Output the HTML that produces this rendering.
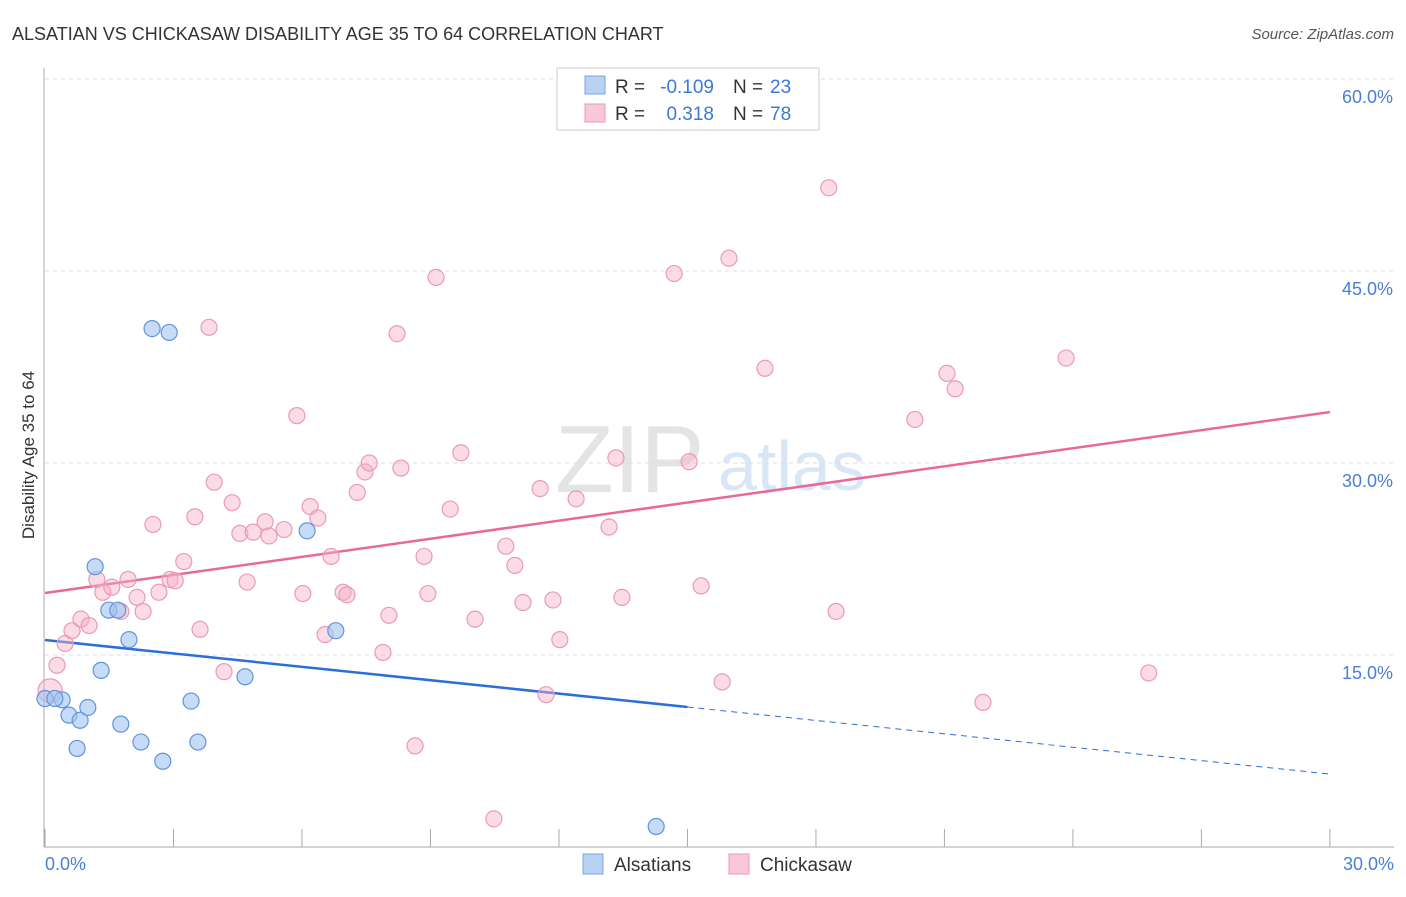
<!DOCTYPE html>
<html><head><meta charset="utf-8"><style>
body{margin:0;background:#fff;font-family:"Liberation Sans",sans-serif;}
svg text{font-family:"Liberation Sans",sans-serif;}
</style></head><body>
<svg id="c" width="1406" height="892" xmlns="http://www.w3.org/2000/svg">
<text x="12" y="40" font-size="18" fill="#333">ALSATIAN VS CHICKASAW DISABILITY AGE 35 TO 64 CORRELATION CHART</text>
<text x="1394" y="39" font-size="15" fill="#555" font-style="italic" text-anchor="end">Source: ZipAtlas.com</text>
<text x="555" y="492" font-size="96" fill="#e4e4e4" font-family="Liberation Serif">ZIP</text>
<text x="718" y="490" font-size="70" fill="#d8e6f6">atlas</text>
<g id="grid"></g>
<line x1="44" y1="68" x2="44" y2="847" stroke="#aaa"/>
<line x1="44" y1="847" x2="1394" y2="847" stroke="#aaa"/>
<text x="34" y="455" font-size="17" fill="#333" text-anchor="middle" transform="rotate(-90 34 455)">Disability Age 35 to 64</text>
<text x="45" y="870" font-size="18" fill="#4a7fd4">0.0%</text>
<text x="1394" y="870" font-size="18" fill="#4a7fd4" text-anchor="end">30.0%</text>
<g id="lines"></g>
<g id="pts"></g>
<g>
<rect x="557" y="68" width="262" height="62" fill="#fff" stroke="#ccc"/>
<rect x="585" y="76" width="20" height="18" fill="#b8d2f4" stroke="#7aa6e0"/>
<rect x="585" y="104" width="20" height="18" fill="#f8c8d6" stroke="#ea9ab4"/>
<text x="615" y="93" font-size="19" fill="#333">R =</text>
<text x="714" y="93" font-size="19" fill="#3b78d8" text-anchor="end">-0.109</text>
<text x="733" y="93" font-size="19" fill="#333">N =</text>
<text x="770" y="93" font-size="19" fill="#3b78d8">23</text>
<text x="615" y="120" font-size="19" fill="#333">R =</text>
<text x="714" y="120" font-size="19" fill="#3b78d8" text-anchor="end">0.318</text>
<text x="733" y="120" font-size="19" fill="#333">N =</text>
<text x="770" y="120" font-size="19" fill="#3b78d8">78</text>
</g>
<g>
<rect x="583" y="854" width="20" height="20" fill="#b8d2f4" stroke="#7aa6e0"/>
<text x="614" y="871" font-size="19" fill="#333">Alsatians</text>
<rect x="729" y="854" width="20" height="20" fill="#f8c8d6" stroke="#ea9ab4"/>
<text x="760" y="871" font-size="19" fill="#333">Chickasaw</text>
</g>
</svg>
<script>
const yTicks=[15,30,45,60];
const blueX=[0,0.4,0.23,0.56,0.82,1.0,0.75,1.17,1.31,1.49,1.7,1.77,1.96,2.24,2.75,2.5,2.9,3.41,3.57,4.67,6.12,6.79,14.27];
const blueY=[11.6,11.5,11.6,10.3,9.9,10.9,7.7,21.9,13.8,18.5,18.5,9.6,16.2,8.2,6.7,40.5,40.2,11.4,8.2,13.3,24.7,16.9,1.6];
const pinkX=[0.12,0.28,0.47,0.63,0.84,1.03,1.21,1.35,1.56,1.77,1.94,2.15,2.29,2.52,2.66,2.92,3.04,3.24,3.5,3.62,3.83,3.95,4.18,4.37,4.55,4.72,4.86,5.14,5.23,5.58,5.88,6.02,6.19,6.37,6.54,6.68,6.96,7.05,7.29,7.47,7.57,7.89,8.03,8.22,8.31,8.64,8.85,8.94,9.13,9.46,9.71,10.04,10.48,10.76,10.97,11.16,11.56,11.7,11.86,12.02,12.4,13.17,13.33,13.47,14.69,15.04,15.32,15.81,15.97,16.81,18.3,18.47,20.31,21.06,21.25,21.9,23.84,25.77];
const pinkY=[12.2,14.2,15.9,16.9,17.8,17.3,20.9,19.9,20.3,18.4,20.9,19.5,18.4,25.2,19.9,20.9,20.8,22.3,25.8,17.0,40.6,28.5,13.7,26.9,24.5,20.7,24.6,25.4,24.3,24.8,33.7,19.8,26.6,25.7,16.6,22.7,19.9,19.7,27.7,29.3,30.0,15.2,18.1,40.1,29.6,7.9,22.7,19.8,44.5,26.4,30.8,17.8,2.2,23.5,22.0,19.1,28.0,11.9,19.3,16.2,27.2,25.0,30.4,19.5,44.8,30.1,20.4,12.9,46.0,37.4,51.5,18.4,33.4,37.0,35.8,11.3,38.2,13.6];
const blueLine=[16.17,5.7], pinkLine=[19.84,33.98];
const X=v=>45+v*42.83, Y=v=>847-v*12.8;
const NS="http://www.w3.org/2000/svg";
function mk(tag,attrs,parent){const e=document.createElementNS(NS,tag);for(const k in attrs)e.setAttribute(k,attrs[k]);parent.appendChild(e);return e;}
const grid=document.getElementById('grid');
yTicks.forEach(t=>{
 const l=mk('line',{x1:45,x2:1394,y1:Y(t),y2:Y(t),stroke:'#ddd','stroke-dasharray':'4,4'},grid);
 
 
 const tx=mk('text',{x:1393,y:Y(t)+24,'font-size':18,fill:'#4a7fd4','text-anchor':'end'},grid);
 tx.textContent=t.toFixed(1)+'%';
 
 
});
for(let i=0;i<=10;i++){const l=mk('line',{x1:X(i*3),x2:X(i*3),y1:829,y2:847,stroke:'#aaa'},grid);
 
 }
const lines=document.getElementById('lines');
const bm=15;
const bl=mk('line',{x1:X(0),y1:Y(blueLine[0]),x2:X(bm),y2:Y(blueLine[0]+(blueLine[1]-blueLine[0])*bm/30),stroke:'#2b6fd6','stroke-width':2.5},lines);


const bd=mk('line',{x1:X(bm),y1:Y(blueLine[0]+(blueLine[1]-blueLine[0])*bm/30),x2:X(30),y2:Y(blueLine[1]),stroke:'#2b6fd6','stroke-width':1,'stroke-dasharray':'6,5'},lines);


const pl=mk('line',{x1:X(0),y1:Y(pinkLine[0]),x2:X(30),y2:Y(pinkLine[1]),stroke:'#e8689a','stroke-width':2.5},lines);


const pts=document.getElementById('pts');
pinkX.forEach((x,i)=>{const c=mk('circle',{cx:X(x),cy:Y(pinkY[i]),r:i==0?12:8,fill:'rgba(244,176,200,0.45)',stroke:'#eb9ab5','stroke-width':1.2},pts);
 
 });
blueX.forEach((x,i)=>{const c=mk('circle',{cx:X(x),cy:Y(blueY[i]),r:8,fill:'rgba(160,196,240,0.6)',stroke:'#5f93dc','stroke-width':1.2},pts);
 
 });
</script>
</body></html>
